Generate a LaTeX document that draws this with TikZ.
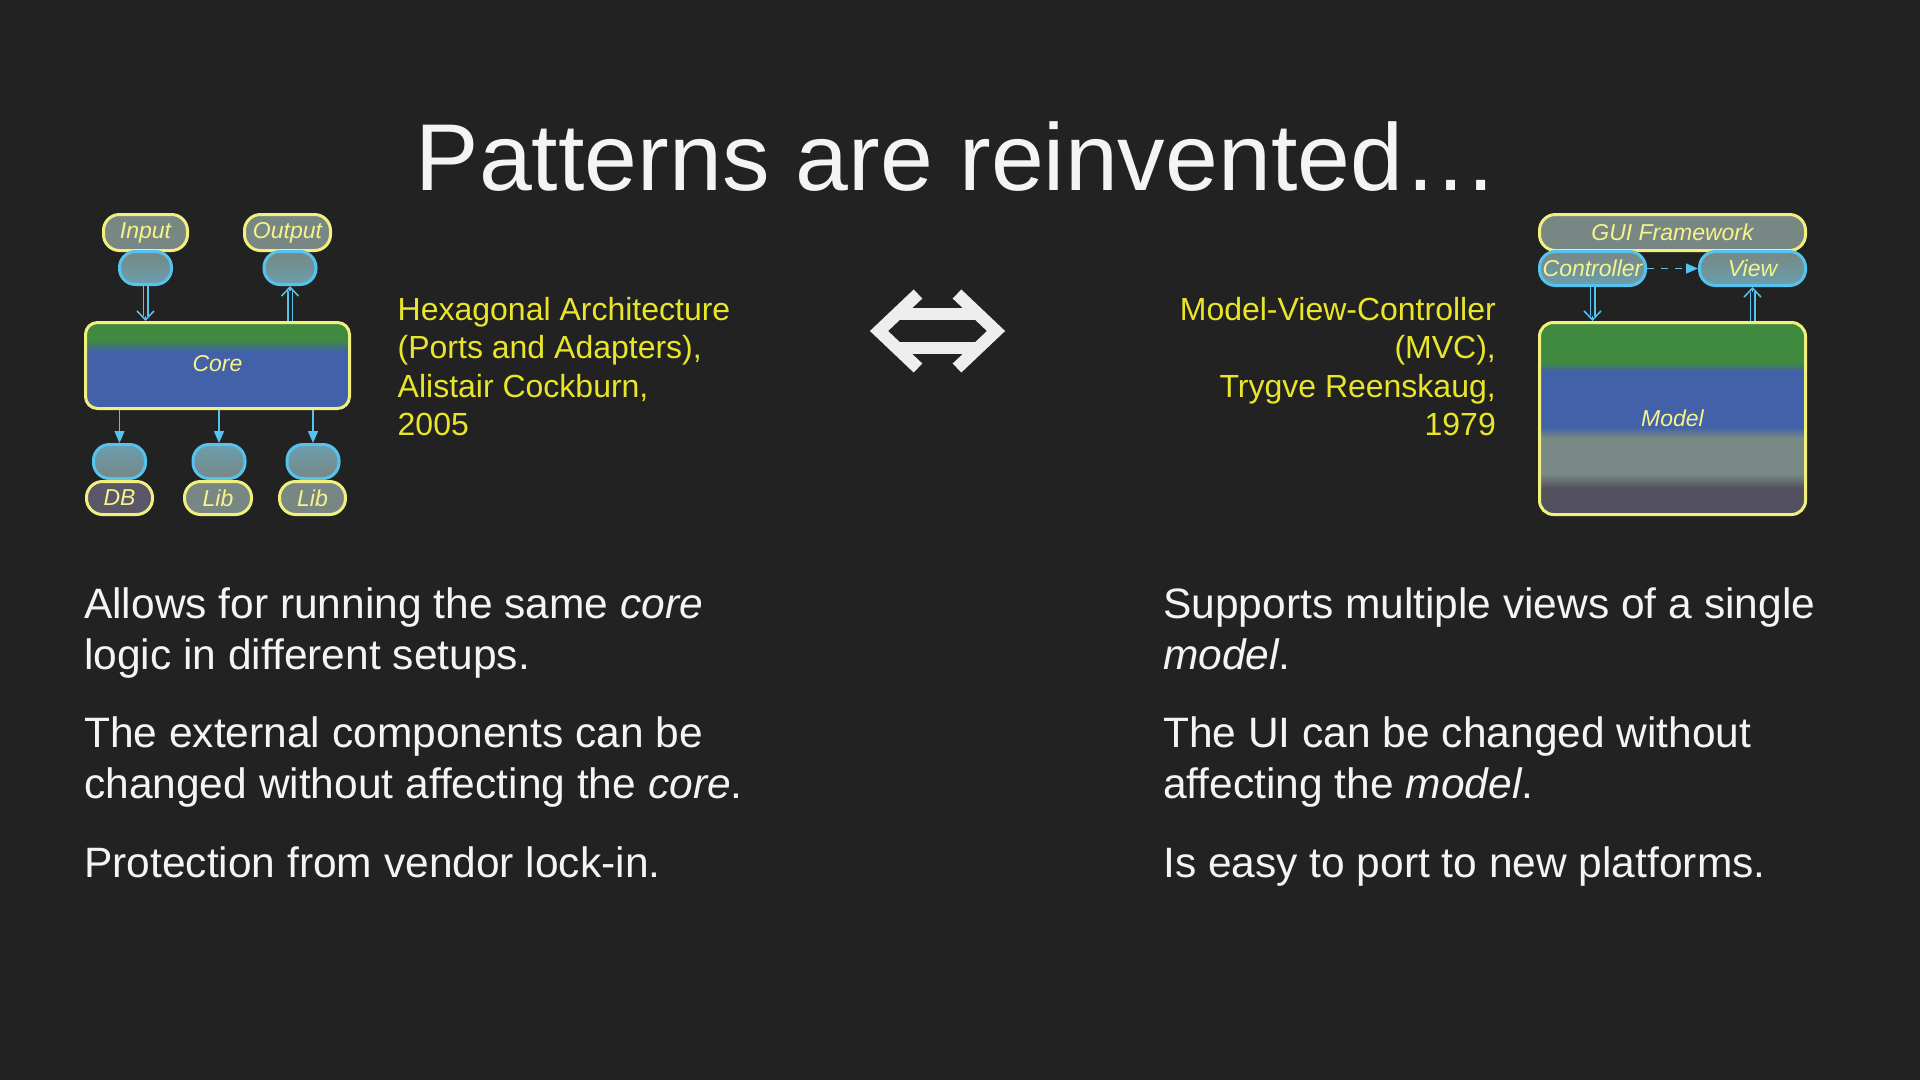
\documentclass[tikz,border=0pt]{standalone}
\usepackage{fontspec}
\setmainfont{Liberation Sans}
\usetikzlibrary{arrows.meta}
\definecolor{bg}{HTML}{222222}
\definecolor{pillgray}{HTML}{788784}
\definecolor{dbgray}{HTML}{5A5868}
\definecolor{pillline}{HTML}{F2F07C}
\definecolor{lblyellow}{HTML}{F5F38A}
\definecolor{citeyellow}{HTML}{E8E52A}
\definecolor{portcyan}{HTML}{55C3EE}
\definecolor{cgreen}{HTML}{3F8A3E}
\definecolor{cblue}{HTML}{4261A8}
\definecolor{mgray}{HTML}{798985}
\definecolor{mdark}{HTML}{53515F}
\definecolor{arrwhite}{HTML}{EEEEEE}
\definecolor{txtwhite}{HTML}{F4F4F4}
\newcommand\lblfont{\fontsize{23}{23}\selectfont\itshape}
\newcommand\bodyfont{\fontsize{42.5}{51}\selectfont}
\newcommand\citefont{\fontsize{32}{38}\selectfont}
\begin{document}
\begin{tikzpicture}[x=1pt,y=-1pt,
  pill/.style={draw=pillline, line width=3, fill=pillgray, rounded corners=16, inner sep=0, font=\lblfont, text=lblyellow},
  porttop/.style={draw=portcyan, line width=3, rounded corners=16, inner sep=0, top color=pillgray, middle color=pillgray, bottom color=portcyan!40!pillgray, font=\lblfont, text=lblyellow},
  portbot/.style={draw=portcyan, line width=3, rounded corners=16, inner sep=0, bottom color=pillgray, middle color=pillgray, top color=portcyan!40!pillgray},
  bigbox/.style={draw=pillline, line width=3, inner sep=0, font=\lblfont, text=lblyellow},
  dblbody/.style={draw=portcyan, line width=1.5, double=bg, double distance=3},
  dbltip/.style={draw=portcyan, line width=1.5, -{Straight Barb[length=9pt,width=17pt]}},
  sarrow/.style={draw=portcyan, line width=1.5, -{Triangle[length=12pt,width=10pt]}},
  body/.style={anchor=base west, inner sep=0, text=txtwhite, font=\bodyfont},
  citel/.style={anchor=base west, inner sep=0, text=citeyellow, font=\citefont},
  citer/.style={anchor=base east, inner sep=0, text=citeyellow, font=\citefont}]
\fill[bg] (0,0) rectangle (1920,1080);
\useasboundingbox (0,0) rectangle (1920,1080);

% title
\node[anchor=base, inner sep=0, text=txtwhite, font=\fontsize{95}{95}\selectfont] (title) at (957,190) {Patterns are reinvented…};

% ---------- left diagram ----------
\node[pill, minimum width=84, minimum height=36] (input) at (145.5,232.5) {Input};
\node[pill, minimum width=86, minimum height=36] (output) at (287.5,232.5) {Output};
\node[porttop, minimum width=52, minimum height=33] (pin) at (145.5,268) {};
\node[porttop, minimum width=52, minimum height=33] (pout) at (290,268) {};

\begin{scope}
\clip[rounded corners=12] (85.5,322.5) rectangle (349.5,408.5);
\fill[cgreen] (80,318) rectangle (355,340);
\shade[top color=cgreen, bottom color=cblue] (80,340) rectangle (355,352);
\fill[cblue] (80,352) rectangle (355,412);
\end{scope}
\node[bigbox, rounded corners=12, minimum width=264, minimum height=86] (core) at (217.5,365.5) {\raisebox{4pt}{Core}};

\node[portbot, minimum width=52, minimum height=34] (p1) at (119.5,461.5) {};
\node[portbot, minimum width=52, minimum height=34] (p2) at (219,461.5) {};
\node[portbot, minimum width=52, minimum height=34] (p3) at (313,461.5) {};
\node[pill, fill=dbgray, minimum width=66, minimum height=33] (db) at (119.5,498) {DB};
\node[pill, minimum width=67, minimum height=33] (lib1) at (218,498) {Lib};
\node[pill, minimum width=66, minimum height=33] (lib2) at (312.5,498) {Lib};

\draw[dbltip] (pin.south) -- (pin.south |- core.north);
\draw[dblbody, shorten >=5pt] (pin.south) -- (pin.south |- core.north);
\draw[dbltip] (core.north -| pout.south) -- (pout.south);
\draw[dblbody, shorten >=5pt] (core.north -| pout.south) -- (pout.south);
\draw[sarrow] (core.south -| p1.north) -- (p1.north);
\draw[sarrow] (core.south -| p2.north) -- (p2.north);
\draw[sarrow] (core.south -| p3.north) -- (p3.north);

% citations
\node[citel] (hx1) at (397.5,320) {Hexagonal Architecture};
\node[citel] (hx2) at (397.5,358) {(Ports and Adapters),};
\node[citel] (hx3) at (397.5,397) {Alistair Cockburn,};
\node[citel] (hx4) at (397.5,435) {2005};

\node[citer] (mv1) at (1496,320) {Model-View-Controller};
\node[citer] (mv2) at (1496,358) {(MVC),};
\node[citer] (mv3) at (1496,397) {Trygve Reenskaug,};
\node[citer] (mv4) at (1496,435) {1979};

% double arrow symbol
\draw[arrwhite, line width=12.5, miter limit=10] (918,294) -- (879,331) -- (918,368);
\draw[arrwhite, line width=12.5, miter limit=10] (957,294) -- (996,331) -- (957,368);
\draw[arrwhite, line width=12.5] (896,314) -- (979,314);
\draw[arrwhite, line width=12.5] (896,348) -- (979,348);

% ---------- right diagram ----------
\node[pill, minimum width=266, minimum height=36] (gui) at (1672.5,232.5) {GUI Framework};
\node[porttop, minimum width=106, minimum height=34] (ctrl) at (1592.5,268.5) {Controller};
\node[porttop, minimum width=106, minimum height=34] (view) at (1752.5,268.5) {View};

\begin{scope}
\clip[rounded corners=14] (1539.5,322.5) rectangle (1805.5,514.5);
\fill[cgreen] (1535,318) rectangle (1810,362);
\shade[top color=cgreen, bottom color=cblue] (1535,362) rectangle (1810,372);
\fill[cblue] (1535,372) rectangle (1810,427);
\shade[top color=cblue, bottom color=mgray] (1535,427) rectangle (1810,438);
\fill[mgray] (1535,438) rectangle (1810,474);
\shade[top color=mgray, bottom color=mdark] (1535,474) rectangle (1810,488);
\fill[mdark] (1535,488) rectangle (1810,518);
\end{scope}
\node[bigbox, rounded corners=14, minimum width=266, minimum height=192] (model) at (1672.5,418.5) {Model};

\draw[dbltip] (ctrl.south) -- (ctrl.south |- model.north);
\draw[dblbody, shorten >=5pt] (ctrl.south) -- (ctrl.south |- model.north);
\draw[dbltip] (model.north -| view.south) -- (view.south);
\draw[dblbody, shorten >=5pt] (model.north -| view.south) -- (view.south);
\draw[draw=portcyan, line width=1.5, dash pattern=on 7pt off 7pt, -{Triangle[length=12pt,width=10pt]}] (ctrl.east) -- (view.west);

% body text
\node[body] (l1) at (84,618) {Allows for running the same \textit{core}};
\node[body] (l2) at (84,669) {logic in different setups.};
\node[body] (l3) at (84,747) {The external components can be};
\node[body] (l4) at (84,798) {changed without affecting the \textit{core}.};
\node[body] (l5) at (84,877) {Protection from vendor lock-in.};

\node[body] (r1) at (1163,618) {Supports multiple views of a single};
\node[body] (r2) at (1163,669) {\textit{model}.};
\node[body] (r3) at (1163,747) {The UI can be changed without};
\node[body] (r4) at (1163,798) {affecting the \textit{model}.};
\node[body] (r5) at (1163,877) {Is easy to port to new platforms.};
\end{tikzpicture}
\end{document}
